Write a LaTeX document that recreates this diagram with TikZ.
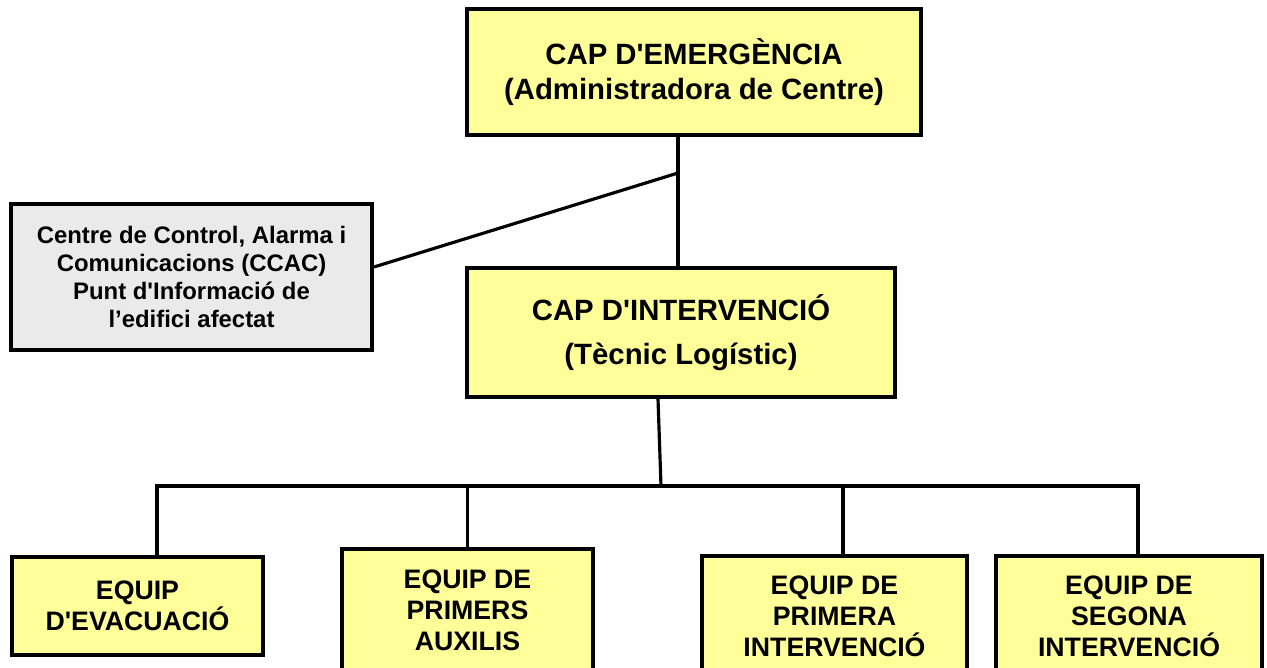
\documentclass[tikz,border=0pt]{standalone}
\usepackage{fontspec}
\setmainfont{Liberation Sans}
\usepackage{xcolor}
\usetikzlibrary{positioning,calc}
\definecolor{cargyellow}{RGB}{255,255,153}
\definecolor{infogrey}{RGB}{234,234,234}
\newcommand{\apos}{\textquotesingle}

\begin{document}
\begin{tikzpicture}[x=0.02cm,y=-0.02cm,
        cargbox/.style={draw,line width=2.3pt,fill=cargyellow,align=center,inner sep=0pt},
        infobox/.style={draw,line width=2.3pt,fill=infogrey,align=center,inner sep=0pt},
        bigtext/.style={font=\fontsize{16.7}{19.5}\selectfont\bfseries},
        smalltext/.style={font=\fontsize{13.6}{16}\selectfont\bfseries},
        teamtext/.style={font=\fontsize{15.2}{17.6}\selectfont\bfseries},
        link/.style={line width=1.8pt}]
        \clip (0,0) rectangle (1267,668);
        % caps
        \node[cargbox,bigtext,minimum width=9.08cm,minimum height=2.52cm] (emerg) at (694,72) {CAP D\apos EMERGÈNCIA\\(Administradora de Centre)};
        \node[infobox,smalltext,minimum width=7.22cm,minimum height=2.92cm] (ccac) at (191.5,277) {Centre de Control, Alarma i\\Comunicacions (CCAC)\\Punt d\apos Informació de\\l’edifici afectat};
        \node[cargbox,font=\fontsize{16.7}{25}\selectfont\bfseries,minimum width=8.56cm,minimum height=2.58cm] (interv) at (681,332.5) {CAP D\apos INTERVENCIÓ\\(Tècnic Logístic)};
        % equips
        \node[cargbox,teamtext,minimum width=5.02cm,minimum height=1.96cm] (evac) at (137.5,606) {EQUIP\\D\apos EVACUACIÓ};
        \node[cargbox,teamtext,minimum width=5.02cm,minimum height=2.46cm] (primers) at (467.5,610.5) {EQUIP DE\\PRIMERS\\AUXILIS};
        \node[cargbox,teamtext,minimum width=5.3cm,minimum height=2.4cm] (primera) at (834.5,616) {EQUIP DE\\PRIMERA\\INTERVENCIÓ};
        \node[cargbox,teamtext,minimum width=5.32cm,minimum height=2.4cm] (segona) at (1129,616) {EQUIP DE\\SEGONA\\INTERVENCIÓ};
        % connexions
        \coordinate (jTop) at (678,173);
        \coordinate (jBus) at (661,486);
        \coordinate (dPrimera) at (843,556);
        \draw[link] (emerg.south -| jTop) -- (interv.north -| jTop);
        \draw[link] ($(ccac.east)+(0,-10)$) -- (jTop);
        \draw[link] ($(interv.south)+(-23,0)$) -- (jBus);
        \draw[link] ($(evac.north)+(19.5,0)$) |- (jBus) -| ($(segona.north)+(9,0)$);
        \draw[link] (primers.north) -- (primers.north |- jBus);
        \draw[link] (dPrimera) -- (dPrimera |- jBus);
\end{tikzpicture}
\end{document}
